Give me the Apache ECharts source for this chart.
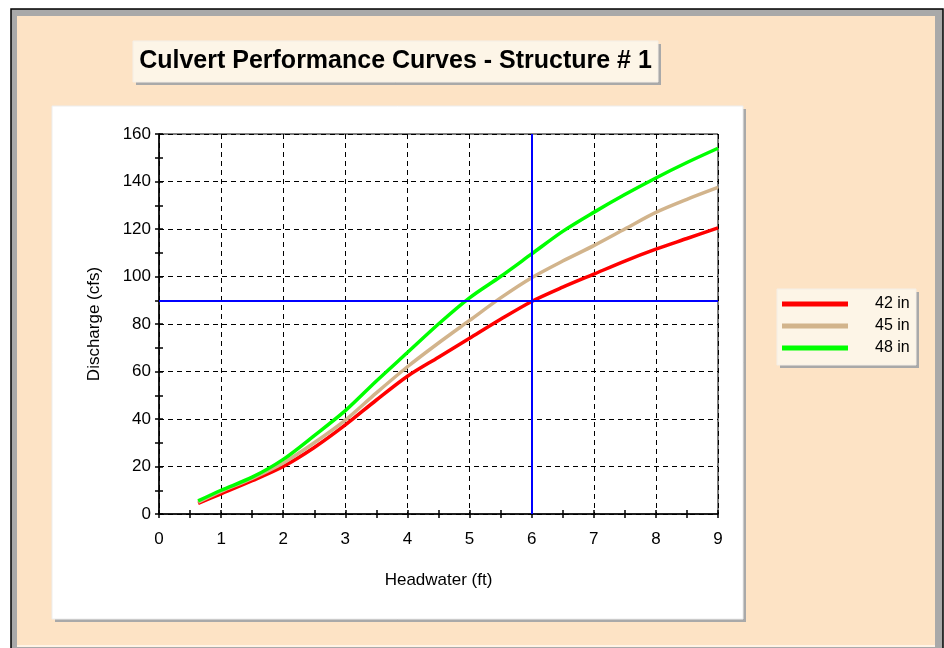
<!DOCTYPE html>
<html>
<head>
<meta charset="utf-8">
<title>Culvert Performance Curves</title>
<script src="https://cdn.jsdelivr.net/npm/echarts@6/dist/echarts.min.js"></script>
<style>
  html, body { margin: 0; padding: 0; background: #fff; }
  #chart { width: 944px; height: 648px; }
</style>
</head>
<body>
<div id="chart"></div>
<script>
// headwater (ft) sample points, shared by all three curves
var headwater = [0.63, 1, 1.5, 2, 2.5, 3, 3.5, 4, 4.5, 5, 5.5, 6, 6.5, 7, 7.5, 8, 8.5, 9];
// discharge (cfs)
var q42 = [4.5, 8.5, 14, 20, 28, 37.5, 48, 58, 66, 74, 82, 89.5, 95.5, 101, 106.5, 111.5, 116, 120.5];
var q45 = [5, 9.5, 15, 21.5, 30, 39.5, 51, 62, 72, 81.5, 91, 99.5, 106.5, 113, 120, 127, 132.5, 137.5];
var q48 = [5.5, 10, 15.5, 23, 33, 43.5, 56, 68, 80, 91, 100, 109.5, 119, 127, 134.5, 141.5, 148, 154];
var seriesNames = ['42 in', '45 in', '48 in'];
// design point (blue cross hairs)
var designHw = 6;
var designQ = 90;

var peach = '#FDE3C5';
var cream = '#FDF5E7';
var shade = '#A9A9A9';
var font = 'Liberation Sans, Arial, sans-serif';

function pairs(ys) {
  return headwater.map(function (x, i) { return [x, ys[i]]; });
}

function curve(name, ys, color) {
  return {
    name: name,
    type: 'line',
    data: pairs(ys),
    smooth: 0.3,
    showSymbol: false,
    color: color,
    lineStyle: { color: color, width: 3.5 },
    emphasis: { disabled: true }
  };
}

var chart = echarts.init(document.getElementById('chart'));

var series = [
  curve(seriesNames[0], q42, '#FF0000'),
  curve(seriesNames[1], q45, '#D2B48C'),
  curve(seriesNames[2], q48, '#00FF00')
];
series.push({
  type: 'line',
  data: [],
  markLine: {
    silent: true,
    symbol: 'none',
    label: { show: false },
    lineStyle: { color: '#0000FF', width: 2, type: 'solid' },
    data: [{ xAxis: designHw }, { yAxis: designQ }]
  },
  z: 5
});

var mainAxisLabel = { color: '#000', fontFamily: font, fontSize: 17 };
var dashed = { show: true, lineStyle: { color: '#000', type: [5, 4], width: 1 } };
var tickLine = { color: '#000', width: 1.5 };

chart.setOption({
  backgroundColor: '#fff',
  animation: false,
  graphic: [
    // window frame
    { type: 'rect', z: -10, shape: { x: 11, y: 9, width: 932, height: 660 },
      style: { fill: shade, stroke: '#000', lineWidth: 1.5 } },
    { type: 'rect', z: -10, shape: { x: 17, y: 16, width: 918, height: 629 },
      style: { fill: peach } },
    { type: 'rect', z: -10, shape: { x: 17, y: 645, width: 918, height: 2 },
      style: { fill: '#FFF3E6' } },
    // title box
    { type: 'rect', z: -10, shape: { x: 136, y: 44, width: 525, height: 41 },
      style: { fill: shade } },
    { type: 'rect', z: -10, shape: { x: 133, y: 41, width: 525, height: 41 },
      style: { fill: cream, stroke: '#F4EEE6', lineWidth: 1 } },
    // white plot panel
    { type: 'rect', z: -10, shape: { x: 55, y: 109, width: 691, height: 513 },
      style: { fill: shade } },
    { type: 'rect', z: -10, shape: { x: 52, y: 106, width: 691, height: 513 },
      style: { fill: '#fff', stroke: '#EDEDED', lineWidth: 1 } },
    // legend box
    { type: 'rect', z: -10, shape: { x: 780, y: 292, width: 139, height: 76 },
      style: { fill: shade } },
    { type: 'rect', z: -10, shape: { x: 777, y: 289, width: 139, height: 76 },
      style: { fill: cream, stroke: '#F4EEE6', lineWidth: 1 } }
  ],
  title: {
    text: 'Culvert Performance Curves - Structure # 1',
    left: 395.5,
    top: 49,
    textAlign: 'center',
    padding: 0,
    textStyle: { color: '#000', fontFamily: font, fontSize: 25, fontWeight: 'bold' }
  },
  legend: {
    data: seriesNames,
    orient: 'vertical',
    left: 782,
    top: 296,
    padding: 0,
    itemGap: 6,
    itemWidth: 66,
    itemHeight: 5,
    icon: 'rect',
    selectedMode: false,
    textStyle: { color: '#000', fontFamily: font, fontSize: 16, lineHeight: 16, padding: [0, 0, 0, 22] }
  },
  grid: {
    left: 159, right: 226, top: 134, bottom: 134,
    show: true, borderColor: '#000', borderWidth: 1, backgroundColor: 'transparent'
  },
  xAxis: [{
    type: 'value', min: 0, max: 9, interval: 1, position: 'bottom',
    name: 'Headwater (ft)', nameLocation: 'middle', nameGap: 58,
    nameTextStyle: { color: '#000', fontFamily: font, fontSize: 17 },
    axisLine: { show: true, lineStyle: tickLine },
    axisTick: { show: true, length: 4, lineStyle: tickLine },
    minorTick: { show: true, splitNumber: 2, length: 4, lineStyle: tickLine },
    axisLabel: Object.assign({ margin: 17 }, mainAxisLabel),
    splitLine: dashed
  }, {
    type: 'value', min: 0, max: 9, interval: 1, position: 'bottom',
    axisLine: { show: false },
    axisTick: { show: true, inside: true, length: 4, lineStyle: tickLine },
    minorTick: { show: true, splitNumber: 2, length: 4, lineStyle: tickLine },
    axisLabel: { show: false },
    splitLine: { show: false }
  }],
  yAxis: [{
    type: 'value', min: 0, max: 160, interval: 20, position: 'left',
    name: 'Discharge (cfs)', nameLocation: 'middle', nameGap: 56, nameRotate: 90,
    nameTextStyle: { color: '#000', fontFamily: font, fontSize: 17 },
    axisLine: { show: true, lineStyle: tickLine },
    axisTick: { show: true, length: 4, lineStyle: tickLine },
    minorTick: { show: true, splitNumber: 2, length: 4, lineStyle: tickLine },
    axisLabel: Object.assign({ margin: 8 }, mainAxisLabel),
    splitLine: dashed
  }, {
    type: 'value', min: 0, max: 160, interval: 20, position: 'left',
    axisLine: { show: false },
    axisTick: { show: true, inside: true, length: 4, lineStyle: tickLine },
    minorTick: { show: true, splitNumber: 2, length: 4, lineStyle: tickLine },
    axisLabel: { show: false },
    splitLine: { show: false }
  }],
  series: series
});
</script>
</body>
</html>
